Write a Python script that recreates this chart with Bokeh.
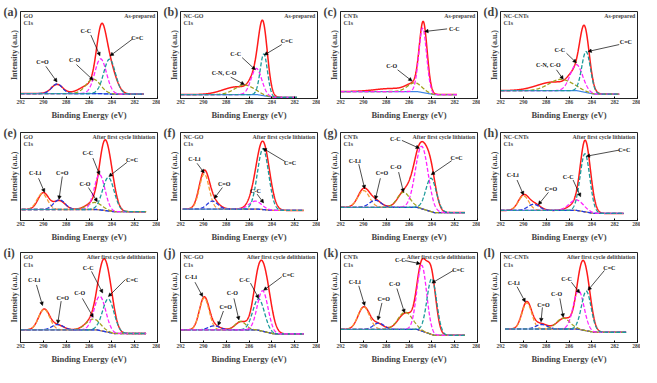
import numpy as np
from bokeh.plotting import figure
from bokeh.layouts import gridplot
from bokeh.models import Range1d, Label, Arrow, NormalHead, FixedTicker
from bokeh.embed import file_html
from bokeh.resources import INLINE

# ---------------- data ----------------
panel_tags = ["(a)", "(b)", "(c)", "(d)", "(e)", "(f)", "(g)", "(h)", "(i)", "(j)", "(k)", "(l)"]
samples = ["GO", "NC-GO", "CNTs", "NC-CNTs"] * 3
conditions = (["As-prepared"] * 4 + ["After first cycle lithiation"] * 4
              + ["After first cycle delithiation"] * 4)
x_ticks = [292, 290, 288, 286, 284, 282, 280]

scan_start = [292.0, 292.0, 292.0, 292.0, 291.9, 291.8, 292.0, 292.0, 292.0, 292.0, 292.0, 291.6]
scan_end = [281.2, 281.8, 281.8, 281.6, 281.0, 281.2, 281.1, 281.2, 281.0, 281.2, 281.1, 281.0]
bg_left = [0.057, 0.045, 0.080, 0.090, 0.125, 0.130, 0.150, 0.114, 0.140, 0.140, 0.146, 0.150]
bg_right = [0.050, 0.012, 0.045, 0.050, 0.100, 0.114, 0.090, 0.080, 0.100, 0.095, 0.080, 0.114]

# fitted components: (bond, centre eV, height a.u., FWHM eV)
fit_a = [("C=O", 288.8, 0.11, 1.1), ("C-O", 285.63, 0.165, 1.5), ("C-C", 284.98, 0.40, 1.2), ("C=C", 284.2, 0.40, 1.2)]
fit_b = [("C-N, C-O", 286.4, 0.11, 2.0), ("C-C", 285.35, 0.30, 1.1), ("C=C", 284.7, 0.48, 0.75)]
fit_c = [("C-O", 285.5, 0.10, 1.5), ("C-C", 284.8, 0.74, 0.8)]
fit_d = [("C-N, C-O", 286.7, 0.13, 2.5), ("C-C", 285.35, 0.30, 1.3), ("C=C", 284.5, 0.47, 0.9)]
fit_e = [("C-Li", 290.1, 0.18, 1.1), ("C=O", 288.6, 0.11, 1.2), ("C-O", 285.5, 0.08, 1.5),
         ("C-C", 285.07, 0.40, 1.1), ("C=C", 284.3, 0.38, 1.2)]
fit_f = [("C-Li", 289.92, 0.40, 1.0), ("C=O", 289.2, 0.09, 1.1), ("C-C", 285.44, 0.09, 1.3), ("C=C", 284.77, 0.69, 1.15)]
fit_g = [("C-Li", 289.97, 0.19, 1.2), ("C=O", 288.95, 0.08, 1.2), ("C-O", 286.48, 0.17, 1.3),
         ("C-C", 284.88, 0.71, 1.3), ("C=C", 284.06, 0.38, 1.1)]
fit_h = [("C-Li", 289.98, 0.165, 1.1), ("C=O", 289.1, 0.07, 1.2), ("C-C", 285.35, 0.12, 1.5), ("C=C", 284.6, 0.66, 1.0)]
fit_i = [("C-Li", 289.93, 0.23, 1.15), ("C=O", 288.74, 0.06, 1.2), ("C-O", 285.63, 0.12, 1.5),
         ("C-C", 285.04, 0.38, 1.2), ("C=C", 284.3, 0.37, 1.2)]
fit_j = [("C-Li", 289.92, 0.355, 1.0), ("C=O", 289.05, 0.045, 1.2), ("C-O", 286.74, 0.095, 1.1),
         ("C-C", 285.15, 0.35, 1.2), ("C=C", 284.8, 0.45, 1.1)]
fit_k = [("C-Li", 289.97, 0.25, 1.2), ("C=O", 288.66, 0.07, 1.1), ("C-O", 286.33, 0.19, 1.5),
         ("C-C", 284.88, 0.73, 1.0), ("C=C", 284.0, 0.62, 1.0)]
fit_l = [("C-Li", 289.69, 0.29, 1.0), ("C=O", 288.4, 0.05, 1.2), ("C-O", 286.5, 0.12, 1.4),
         ("C-C", 285.15, 0.43, 1.1), ("C=C", 284.48, 0.44, 1.0)]

# measured envelope (red) described by its peaks: (centre eV, height, FWHM eV)
env_a = [(288.8, 0.105, 1.2), (285.9, 0.10, 2.0), (284.95, 0.55, 1.0), (284.3, 0.35, 1.4)]
env_b = [(287.0, 0.09, 3.0), (285.6, 0.14, 1.0), (284.8, 0.82, 0.95)]
env_c = [(287.5, 0.035, 3.5), (285.6, 0.08, 1.5), (284.75, 0.78, 0.8)]
env_d = [(287.3, 0.10, 3.5), (285.6, 0.15, 1.2), (284.65, 0.72, 1.0)]
env_e = [(290.0, 0.19, 1.1), (288.6, 0.10, 1.2), (285.6, 0.08, 1.5), (284.75, 0.52, 1.0), (284.2, 0.42, 1.1)]
env_f = [(289.92, 0.42, 1.05), (289.1, 0.08, 1.2), (285.45, 0.12, 1.3), (284.75, 0.72, 1.3)]
env_g = [(289.95, 0.21, 1.2), (288.9, 0.07, 1.2), (286.45, 0.16, 1.3), (284.95, 0.72, 1.5), (284.05, 0.30, 1.0)]
env_h = [(289.98, 0.17, 1.1), (289.0, 0.07, 1.2), (285.35, 0.08, 1.5), (284.62, 0.70, 0.95), (284.15, 0.15, 0.9)]
env_i = [(289.93, 0.23, 1.15), (288.7, 0.05, 1.2), (285.7, 0.11, 1.5), (284.85, 0.55, 1.1), (284.25, 0.40, 1.1)]
env_j = [(289.92, 0.36, 1.0), (289.0, 0.04, 1.2), (286.7, 0.09, 1.2), (285.2, 0.48, 1.1), (284.55, 0.50, 1.2)]
env_k = [(289.95, 0.25, 1.2), (288.7, 0.06, 1.1), (286.3, 0.18, 1.5), (284.9, 0.70, 1.0), (284.05, 0.65, 0.95)]
env_l = [(289.7, 0.30, 1.0), (288.5, 0.06, 1.3), (286.4, 0.12, 1.5), (285.0, 0.50, 1.0), (284.45, 0.45, 1.0)]

fits = [fit_a, fit_b, fit_c, fit_d, fit_e, fit_f, fit_g, fit_h, fit_i, fit_j, fit_k, fit_l]
envs = [env_a, env_b, env_c, env_d, env_e, env_f, env_g, env_h, env_i, env_j, env_k, env_l]

# ---------------- annotation layout: (text, text x, text y, arrow from x, y, arrow to x, y) ----------------
notes = [
    [("C=O", 290.07, .42, 289.78, .37, 288.8, .19), ("C-O", 287.26, .44, 287.1, .39, 285.63, .21),
     ("C-C", 286.28, .78, 285.84, .73, 285.04, .49), ("C=C", 281.78, .70, 282.22, .68, 284.15, .49)],
    [("C=C", 282.69, .66, 283.13, .62, 284.66, .50), ("C-C", 287.17, .51, 286.6, .47, 285.44, .33),
     ("C-N, C-O", 288.18, .29, 287.6, .245, 286.4, .16)],
    [("C-C", 282.03, .80, 282.66, .80, 284.63, .77), ("C-O", 287.52, .37, 287.0, .33, 285.73, .20)],
    [("C=C", 281.02, .65, 281.6, .62, 284.34, .54), ("C-C", 286.8, .56, 286.22, .52, 285.35, .41),
     ("C-N, C-O", 287.8, .38, 287.1, .33, 286.5, .22)],
    [("C-Li", 290.72, .54, 290.42, .48, 289.89, .32), ("C=O", 288.34, .54, 288.34, .50, 288.63, .24),
     ("C-O", 286.35, .42, 286.05, .375, 285.27, .214), ("C-C", 286.1, .77, 285.66, .71, 285.07, .52),
     ("C=C", 282.24, .69, 282.68, .66, 284.26, .50)],
    [("C-Li", 290.79, .70, 290.55, .65, 289.92, .54), ("C=O", 288.18, .42, 288.33, .375, 289.05, .25),
     ("C-C", 285.44, .34, 285.29, .30, 284.72, .20), ("C=C", 282.4, .65, 282.84, .67, 284.77, .82)],
    [("C-Li", 290.75, .68, 290.4, .64, 289.88, .36), ("C=O", 288.37, .54, 288.51, .48, 288.95, .24),
     ("C-O", 287.15, .61, 286.91, .55, 286.48, .32), ("C-C", 287.2, .93, 286.62, .91, 285.08, .82),
     ("C=C", 281.83, .71, 282.26, .68, 284.06, .52)],
    [("C-Li", 290.93, .52, 290.55, .46, 289.98, .29), ("C=O", 287.58, .36, 287.8, .32, 288.68, .18),
     ("C-C", 286.07, .50, 285.64, .46, 284.98, .27), ("C=C", 281.16, .80, 281.6, .80, 284.49, .73)],
    [("C-Li", 290.81, .69, 290.6, .64, 290.07, .41), ("C=O", 288.3, .49, 288.44, .46, 288.74, .21),
     ("C-O", 286.81, .55, 286.58, .49, 285.63, .28), ("C-C", 286.07, .83, 285.78, .79, 284.8, .55),
     ("C=C", 282.22, .69, 282.81, .70, 284.3, .51)],
    [("C-Li", 291.08, .73, 290.73, .67, 290.06, .51), ("C=O", 288.04, .39, 288.24, .35, 288.7, .19),
     ("C-O", 287.46, .55, 287.32, .49, 286.88, .25), ("C-C", 286.39, .70, 285.87, .66, 285.15, .49),
     ("C=C", 282.55, .75, 283.13, .73, 284.72, .58)],
    [("C-Li", 290.75, .67, 290.4, .63, 289.88, .41), ("C=O", 288.22, .48, 288.37, .44, 288.72, .25),
     ("C-O", 287.26, .65, 287.06, .60, 286.39, .33), ("C-C", 286.77, .92, 286.33, .91, 285.02, .875),
     ("C=C", 281.68, .81, 282.12, .80, 284.0, .66)],
    [("C-Li", 290.84, .66, 290.55, .62, 289.83, .45), ("C=O", 288.24, .42, 288.33, .39, 288.45, .23),
     ("C-O", 287.09, .54, 286.8, .49, 286.5, .28), ("C-C", 286.22, .71, 285.79, .67, 285.06, .55),
     ("C=C", 282.46, .83, 282.9, .80, 284.34, .58)],
]

# ---------------- styles / layout ----------------
FONT = "Liberation Serif"
COL = {"C-Li": "#f59a35", "C=O": "#2236e0", "C-O": "#a0a01c", "C-N, C-O": "#a0a01c",
       "C-C": "#ff22ff", "C=C": "#1c9a9a"}
COL_J = {"C-C": "#1c9a9a", "C=C": "#ff22ff"}
ENV_COL = "#ff1a1a"
BG_COL = "#3f86e6"
ROW_HEIGHT = [122, 122, 122]
ROW_TOP = [11, 10, 8]


def gauss(x, c, h, w):
    return h * np.exp(-4.0 * np.log(2.0) * (x - c) ** 2 / w ** 2)


figs = []
for i in range(12):
    row = i // 4
    x = np.linspace(scan_start[i], scan_end[i], 500)
    bx = [scan_end[i], 283.8, 285.3, scan_start[i]]
    by = [bg_right[i], bg_right[i], bg_left[i], bg_left[i]]
    base = np.interp(x, bx, by)

    p = figure(width=160, height=ROW_HEIGHT[row], output_backend="svg", toolbar_location=None,
               x_range=Range1d(292, 280), y_range=Range1d(0, 1),
               min_border_left=20, min_border_right=3, min_border_top=ROW_TOP[row],
               min_border_bottom=22)
    p.grid.visible = False
    p.outline_line_color = "#222222"
    p.outline_line_width = 1
    p.background_fill_color = "white"
    p.border_fill_color = "white"

    ax = p.xaxis[0]
    ax.ticker = FixedTicker(ticks=x_ticks)
    ax.major_label_text_font = FONT
    ax.major_label_text_font_style = "bold"
    ax.major_label_text_font_size = "5.5px"
    ax.major_label_standoff = 1
    ax.major_tick_in = 2
    ax.major_tick_out = 0
    ax.minor_tick_line_color = None
    ax.axis_line_color = "#222222"
    ax.axis_label = "Binding Energy (eV)"
    ax.axis_label_text_font = FONT
    ax.axis_label_text_font_style = "bold"
    ax.axis_label_text_font_size = "8.5px"
    ax.axis_label_standoff = 3

    ay = p.yaxis[0]
    ay.ticker = FixedTicker(ticks=[])
    ay.major_label_text_font_size = "0px"
    ay.major_tick_line_color = None
    ay.minor_tick_line_color = None
    ay.axis_line_color = "#222222"
    ay.axis_label = "Intensity (a.u.)"
    ay.axis_label_text_font = FONT
    ay.axis_label_text_font_style = "bold"
    ay.axis_label_text_font_size = "8px"
    ay.axis_label_standoff = 2

    env = base.copy()
    for (c, h, w) in envs[i]:
        env = env + gauss(x, c, h, w)
    p.line(x, env, line_color=ENV_COL, line_width=1.5)
    p.line(x, base, line_color=BG_COL, line_width=1.2)
    for (name, c, h, w) in fits[i]:
        col = COL_J.get(name, COL[name]) if i == 9 else COL[name]
        p.line(x, base + gauss(x, c, h, w), line_color=col, line_width=1.3, line_dash="4 2")

    for (t, tx, ty, sx, sy, ex, ey) in notes[i]:
        p.add_layout(Label(x=tx, y=ty, text=t, text_font=FONT, text_font_style="bold",
                           text_font_size="6px", text_align="center", text_baseline="middle",
                           text_color="#111111"))
        p.add_layout(Arrow(end=NormalHead(size=3.5, line_color="black", fill_color="black", line_width=0.5),
                           x_start=sx, y_start=sy, x_end=ex, y_end=ey,
                           line_color="black", line_width=0.7))

    p.add_layout(Label(x=291.74, y=0.95, text=samples[i], text_font=FONT, text_font_style="bold",
                       text_font_size="6px", text_align="left", text_baseline="middle"))
    p.add_layout(Label(x=291.74, y=0.865, text="C1s", text_font=FONT, text_font_style="bold",
                       text_font_size="6px", text_align="left", text_baseline="middle"))
    p.add_layout(Label(x=280.2, y=0.95, text=conditions[i], text_font=FONT, text_font_style="bold",
                       text_font_size="5.8px", text_align="right", text_baseline="middle"))

    p.title.text = panel_tags[i]
    p.title.text_font = FONT
    p.title.text_font_style = "bold"
    p.title.text_font_size = "12px"
    p.title.align = "left"
    p.title.offset = -17
    p.title.standoff = -14
    figs.append(p)

grid = gridplot(figs, ncols=4, toolbar_location=None)
open("out.html", "w").write(file_html(grid, INLINE))
